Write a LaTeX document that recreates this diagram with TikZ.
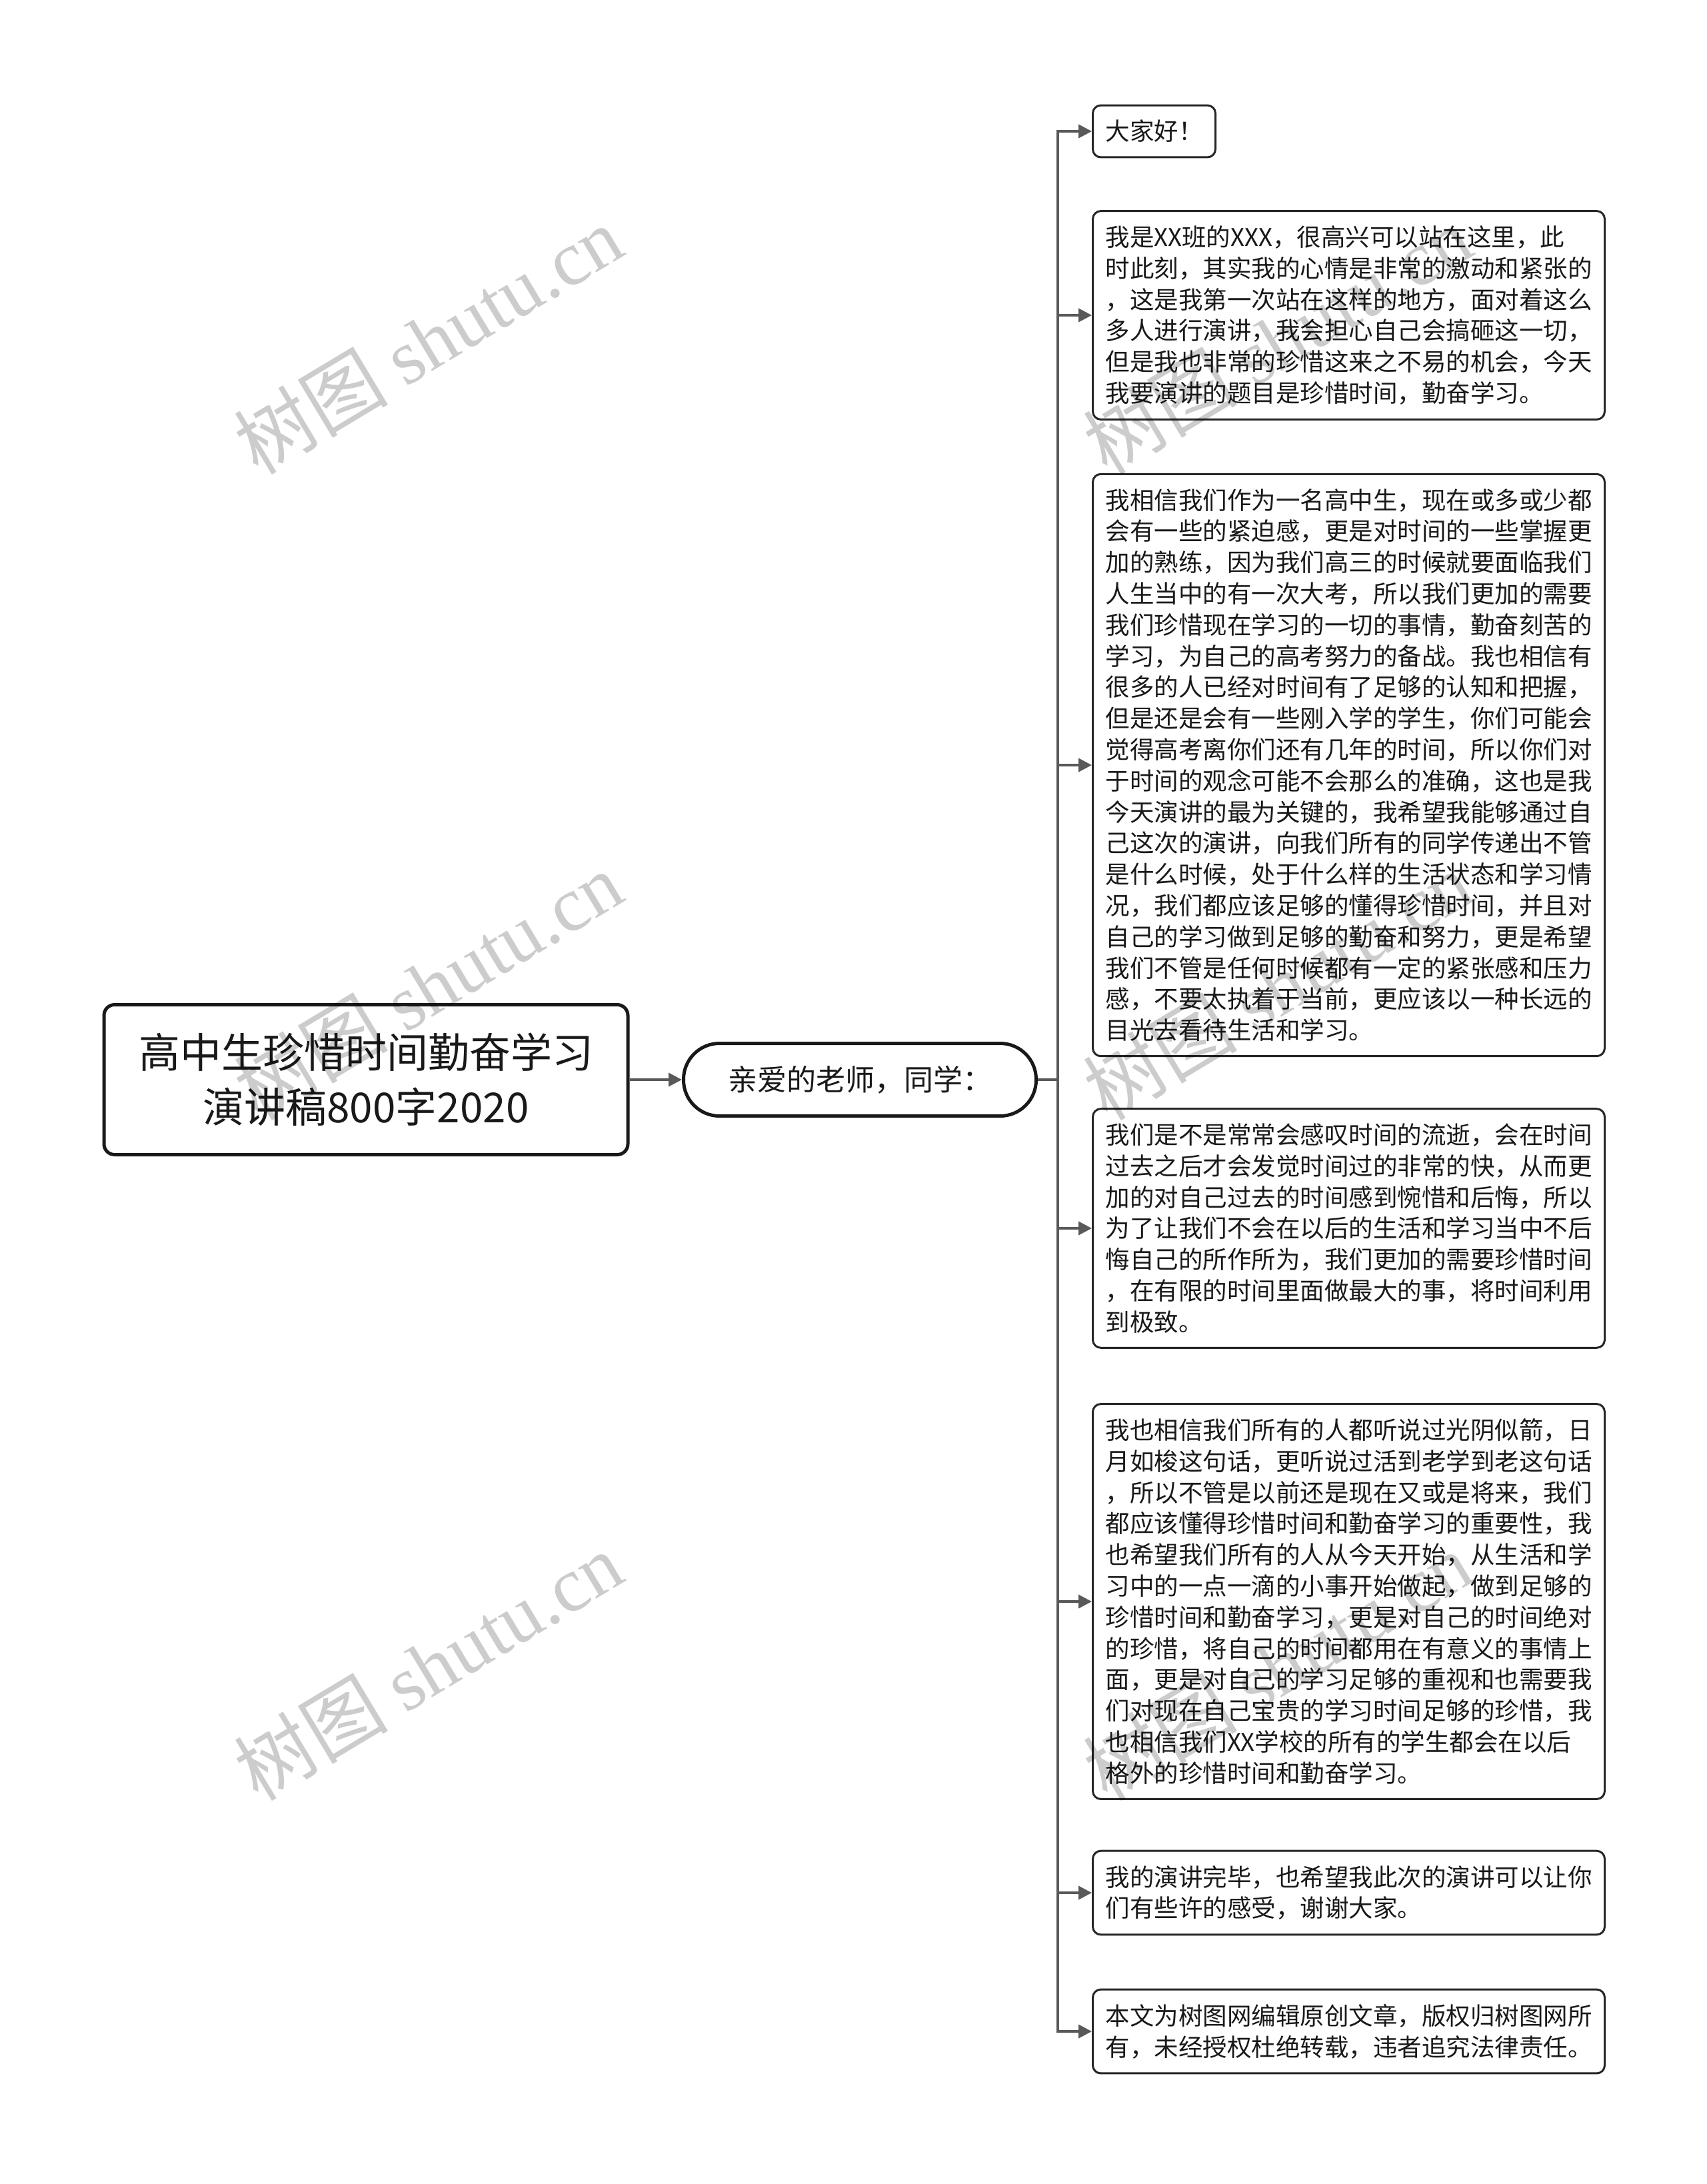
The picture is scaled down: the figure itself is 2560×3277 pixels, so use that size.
\documentclass[tikz,border=0pt]{standalone}
\usepackage{fontspec}
\setmainfont{Noto Sans CJK SC}
\newfontfamily\wmserif{Liberation Serif}
\usetikzlibrary{arrows.meta}

\tikzset{
  leaf/.style={draw=black!85, line width=3pt, rounded corners=12pt, fill=white,
    anchor=west, align=left, text width=730pt, inner xsep=19pt, inner ysep=22pt,
    text=black!90, font=\fontsize{36.5}{46.8}\selectfont},
  link/.style={draw=black!65, line width=4pt, -{Triangle[length=20pt,width=20pt]}},
  wmtext/.style={text=black, text opacity=0.2, rotate=31, font=\fontsize{116}{116}\selectfont}
}

\begin{document}
\begin{tikzpicture}[x=1pt,y=-1pt]
  \useasboundingbox[fill=white] (0,0) rectangle (2560,3277);

  % root and first child
  \node[draw=black!90, line width=5pt, rounded corners=16pt, fill=white,
    minimum width=786pt, minimum height=225pt, align=center, text=black!90,
    font=\fontsize{62}{82}\selectfont] (root) at (549,1620)
    {高中生珍惜时间勤奋学习\\演讲稿800字2020};
  \node[draw=black!90, line width=5pt, rounded corners=54pt, fill=white,
    minimum width=529pt, minimum height=109pt, text=black!90,
    font=\fontsize{44}{50}\selectfont] (greet) at (1290,1620)
    {亲爱的老师，同学：};
  \coordinate (hub) at (1587,1620);

  % leaves
  \node[leaf, text width=146pt] (l1) at (1638,197) {大家好！};
  \node[leaf] (l2) at (1638,473)
    {我是XX班的XXX，很高兴可以站在这里，此\\
     时此刻，其实我的心情是非常的激动和紧张的\\
     ，这是我第一次站在这样的地方，面对着这么\\
     多人进行演讲，我会担心自己会搞砸这一切，\\
     但是我也非常的珍惜这来之不易的机会，今天\\
     我要演讲的题目是珍惜时间，勤奋学习。};
  \node[leaf] (l3) at (1638,1148)
    {我相信我们作为一名高中生，现在或多或少都\\
     会有一些的紧迫感，更是对时间的一些掌握更\\
     加的熟练，因为我们高三的时候就要面临我们\\
     人生当中的有一次大考，所以我们更加的需要\\
     我们珍惜现在学习的一切的事情，勤奋刻苦的\\
     学习，为自己的高考努力的备战。我也相信有\\
     很多的人已经对时间有了足够的认知和把握，\\
     但是还是会有一些刚入学的学生，你们可能会\\
     觉得高考离你们还有几年的时间，所以你们对\\
     于时间的观念可能不会那么的准确，这也是我\\
     今天演讲的最为关键的，我希望我能够通过自\\
     己这次的演讲，向我们所有的同学传递出不管\\
     是什么时候，处于什么样的生活状态和学习情\\
     况，我们都应该足够的懂得珍惜时间，并且对\\
     自己的学习做到足够的勤奋和努力，更是希望\\
     我们不管是任何时候都有一定的紧张感和压力\\
     感，不要太执着于当前，更应该以一种长远的\\
     目光去看待生活和学习。};
  \node[leaf] (l4) at (1638,1843)
    {我们是不是常常会感叹时间的流逝，会在时间\\
     过去之后才会发觉时间过的非常的快，从而更\\
     加的对自己过去的时间感到惋惜和后悔，所以\\
     为了让我们不会在以后的生活和学习当中不后\\
     悔自己的所作所为，我们更加的需要珍惜时间\\
     ，在有限的时间里面做最大的事，将时间利用\\
     到极致。};
  \node[leaf] (l5) at (1638,2403)
    {我也相信我们所有的人都听说过光阴似箭，日\\
     月如梭这句话，更听说过活到老学到老这句话\\
     ，所以不管是以前还是现在又或是将来，我们\\
     都应该懂得珍惜时间和勤奋学习的重要性，我\\
     也希望我们所有的人从今天开始，从生活和学\\
     习中的一点一滴的小事开始做起，做到足够的\\
     珍惜时间和勤奋学习，更是对自己的时间绝对\\
     的珍惜，将自己的时间都用在有意义的事情上\\
     面，更是对自己的学习足够的重视和也需要我\\
     们对现在自己宝贵的学习时间足够的珍惜，我\\
     也相信我们XX学校的所有的学生都会在以后\\
     格外的珍惜时间和勤奋学习。};
  \node[leaf] (l6) at (1638,2840)
    {我的演讲完毕，也希望我此次的演讲可以让你\\
     们有些许的感受，谢谢大家。};
  \node[leaf] (l7) at (1638,3048)
    {本文为树图网编辑原创文章，版权归树图网所\\
     有，未经授权杜绝转载，违者追究法律责任。};

  % connectors
  \draw[link] (root) -- (greet);
  \draw[link, -] (greet.east) -- (hub);
  \draw[link] (hub) |- (l1.west);
  \draw[link] (hub) |- (l2.west);
  \draw[link] (hub) |- (l3.west);
  \draw[link] (hub) |- (l4.west);
  \draw[link] (hub) |- (l5.west);
  \draw[link] (hub) |- (l6.west);
  \draw[link] (hub) |- (l7.west);

  % watermark
  \node[wmtext] (wm1) at (642,510) {树图 {\wmserif shutu.cn}};
  \node[wmtext] (wm2) at (642,1479) {树图 {\wmserif shutu.cn}};
  \node[wmtext] (wm3) at (642,2500) {树图 {\wmserif shutu.cn}};
  \node[wmtext] (wm4) at (1916,510) {树图 {\wmserif shutu.cn}};
  \node[wmtext] (wm5) at (1916,1479) {树图 {\wmserif shutu.cn}};
  \node[wmtext] (wm6) at (1916,2500) {树图 {\wmserif shutu.cn}};
\end{tikzpicture}
\end{document}
